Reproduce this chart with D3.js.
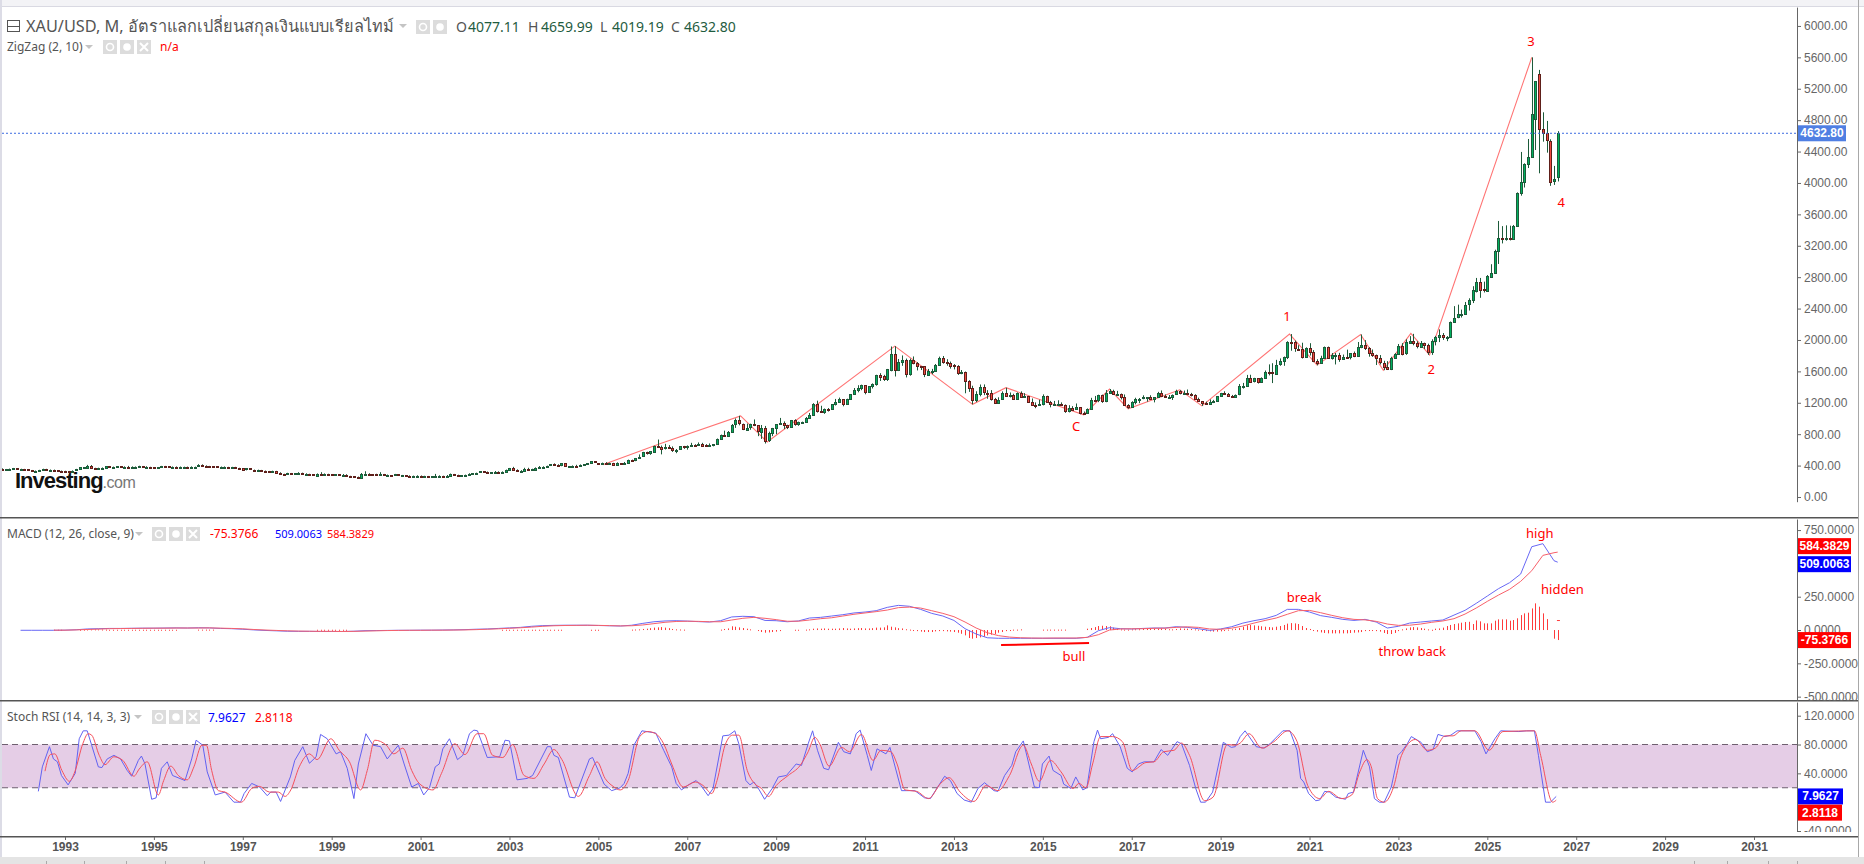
<!DOCTYPE html>
<html>
<head>
<meta charset="utf-8">
<script src="https://cdn.jsdelivr.net/npm/d3@7"></script>
<style>
body { margin: 0; background: #fff; }
svg { display: block; font-family: "Liberation Sans", sans-serif; }
.lbl { font-family: "Noto Sans", "DejaVu Sans", sans-serif; }
</style>
</head>
<body>
<svg id="chart" width="1864" height="864"></svg>
<script>
/* monthly candles, Jul 1991 -> Aug 2026 */
const firstCandle = 1991.5;
const closes = [
362,347,354,358,367,353,
354,353,341,337,337,343,357,340,349,339,334,333,
330,329,337,354,378,378,401,372,355,369,370,390,
378,381,389,376,387,385,385,386,395,384,384,383,
375,376,392,389,385,387,383,383,384,383,387,387,
405,400,396,392,391,382,385,387,379,379,371,369,
345,364,348,340,345,334,326,325,332,311,296,290,
304,297,301,310,293,296,288,273,293,292,294,288,
285,287,280,286,268,261,255,254,299,299,291,290,
283,293,276,276,272,288,277,278,273,264,270,273,
265,267,257,264,267,271,265,273,293,279,276,277,
282,297,302,309,326,318,304,312,323,317,319,347,
368,347,336,336,361,346,354,375,384,386,397,416,
403,396,427,388,394,395,391,408,415,428,453,438,
422,434,427,435,414,437,430,434,473,470,495,513,
570,556,582,654,643,613,632,623,599,603,646,632,
650,664,662,681,659,650,665,673,743,795,783,834,
923,975,933,865,885,926,913,833,884,724,816,880,
928,942,922,891,979,926,954,955,1008,1040,1179,1096,
1081,1118,1115,1180,1207,1244,1181,1248,1307,1359,1386,1421,
1332,1411,1439,1556,1536,1502,1628,1827,1622,1723,1746,1565,
1744,1710,1669,1664,1559,1604,1610,1684,1773,1719,1713,1675,
1664,1578,1596,1476,1393,1235,1313,1396,1327,1323,1250,1202,
1240,1321,1284,1296,1246,1327,1282,1287,1210,1171,1168,1184,
1284,1213,1183,1184,1190,1172,1095,1135,1115,1142,1065,1061,
1118,1238,1234,1293,1217,1322,1351,1309,1316,1273,1173,1152,
1211,1249,1249,1268,1268,1242,1269,1322,1280,1271,1275,1303,
1345,1318,1325,1315,1299,1253,1224,1201,1192,1215,1222,1281,
1321,1313,1292,1284,1305,1409,1414,1520,1472,1513,1464,1517,
1589,1586,1577,1686,1730,1780,1975,1968,1886,1879,1777,1898,
1847,1734,1708,1769,1907,1770,1814,1814,1757,1783,1774,1829,
1797,1909,1937,1897,1837,1807,1766,1711,1661,1633,1768,1824,
1928,1826,1969,1990,1962,1919,1965,1940,1849,1984,2036,2063,
2039,2044,2230,2286,2327,2327,2447,2503,2635,2744,2643,2624,
2813,2858,3133,3295,3289,3303,3295,3456,3872,4008,4242,4331,
4875,5299,4684,4630,4540,4017,4047,4632.8
];
const highs = [
370,365,357,362,370,368,
360,358,354,344,340,346,360,359,350,349,340,338,
334,332,339,358,380,382,409,407,372,373,376,392,
395,387,393,392,390,396,390,389,398,395,392,385,
382,382,396,396,393,392,389,388,386,387,390,390,
418,416,403,396,394,392,388,392,384,384,384,372,
369,366,355,349,348,345,337,332,335,333,315,296,
308,306,305,316,310,302,296,289,300,316,300,296,
293,292,291,293,290,270,267,260,305,328,302,292,
296,316,294,286,280,294,290,281,278,276,272,277,
274,270,268,265,294,276,271,280,299,294,284,280,
285,302,303,310,327,331,325,313,331,327,326,349,
370,384,352,342,372,372,360,377,394,391,399,417,
428,417,432,429,395,402,410,415,419,432,456,456,
428,438,444,437,435,441,431,446,476,476,497,542,
575,577,583,654,732,655,677,661,644,611,648,651,
657,690,672,695,690,673,682,675,745,795,845,840,
930,1000,1034,935,935,934,988,915,917,905,832,880,
928,1007,963,920,981,990,960,960,1019,1070,1195,1227,
1162,1127,1133,1180,1249,1266,1212,1252,1308,1388,1424,1431,
1426,1412,1447,1557,1577,1556,1631,1917,1921,1758,1803,1763,
1763,1790,1719,1669,1666,1631,1632,1694,1788,1796,1755,1725,
1693,1679,1617,1598,1487,1417,1347,1433,1434,1361,1361,1262,
1270,1345,1392,1331,1315,1332,1345,1323,1287,1255,1205,1239,
1307,1290,1224,1224,1232,1205,1179,1169,1157,1191,1144,1089,
1128,1263,1287,1303,1304,1362,1375,1366,1352,1318,1306,1182,
1220,1264,1261,1295,1270,1296,1270,1339,1357,1306,1299,1306,
1366,1361,1356,1369,1326,1309,1265,1219,1214,1243,1237,1284,
1326,1347,1325,1300,1306,1439,1453,1555,1557,1518,1515,1524,
1611,1689,1704,1747,1765,1789,1984,2075,1992,1933,1965,1906,
1959,1871,1755,1799,1916,1916,1834,1834,1836,1814,1877,1831,
1853,1974,2070,1998,1909,1879,1814,1808,1735,1730,1786,1833,
1949,1960,2009,2049,2078,1984,1987,1966,1953,2009,2052,2135,
2088,2050,2235,2431,2450,2387,2484,2531,2685,2790,2790,2743,
2827,2965,3150,3516,3450,3460,3456,3465,3880,4395,4250,4560,
5600,5299,5440,4900,4790,4556,4217,4659.99
];
const lows = [
357,344,345,352,357,351,
350,350,341,336,334,336,343,339,339,339,331,332,
326,326,328,336,354,367,376,369,346,354,367,369,
376,375,379,371,374,382,379,373,386,382,376,376,
372,372,374,387,382,385,381,381,381,381,382,385,
386,398,393,389,388,380,380,385,377,376,370,366,
343,339,344,336,338,334,315,319,319,309,290,283,
284,294,291,300,290,283,287,273,272,290,290,285,
283,281,279,279,268,257,252,252,252,294,289,280,
281,282,276,274,267,270,276,270,269,264,262,268,
262,256,255,254,263,264,265,265,271,274,271,270,
277,282,291,298,307,315,302,304,311,310,314,317,
346,344,327,325,335,342,342,351,372,370,380,394,
399,393,392,386,376,388,386,389,405,412,423,436,
415,411,425,425,414,414,418,429,433,456,456,494,
514,540,537,582,640,543,605,611,574,558,604,613,
603,642,637,661,651,642,644,645,672,727,780,782,
832,880,913,852,848,856,903,775,740,681,701,775,
800,920,865,865,880,908,907,931,954,1004,1045,1075,
1072,1059,1088,1114,1165,1204,1155,1176,1246,1317,1333,1360,
1308,1325,1382,1418,1478,1478,1478,1601,1535,1604,1671,1523,
1545,1690,1612,1617,1527,1548,1564,1592,1685,1698,1672,1635,
1625,1555,1564,1321,1339,1180,1208,1282,1297,1251,1228,1187,
1221,1238,1277,1268,1240,1240,1281,1273,1207,1161,1131,1170,
1167,1197,1142,1178,1168,1162,1072,1077,1097,1108,1053,1046,
1062,1111,1208,1208,1199,1207,1312,1301,1303,1242,1172,1124,
1146,1180,1195,1245,1214,1236,1205,1264,1272,1262,1263,1236,
1303,1307,1303,1301,1281,1250,1211,1160,1180,1182,1196,1221,
1276,1300,1281,1266,1268,1296,1381,1401,1459,1459,1445,1459,
1517,1549,1451,1568,1671,1671,1757,1863,1849,1860,1764,1775,
1802,1717,1677,1706,1770,1761,1750,1688,1722,1746,1761,1753,
1781,1788,1895,1872,1787,1785,1681,1688,1615,1617,1616,1765,
1824,1804,1810,1970,1932,1893,1903,1884,1810,1810,1931,1973,
2001,1985,2030,2229,2277,2286,2330,2375,2470,2605,2537,2605,
2614,2795,2860,2968,3230,3265,3268,3295,3456,3838,3942,4190,
4320,4420,4123,4526,4386,3963,3975,4019.19
];
// months whose open is not the close before them
const openYears = [2026.0833, 2026.1667, 2026.5833];
const openValues = [4811, 5389, 4077.11];

/* zigzag */
const zigYears = [2005.1,2006.4,2008.2,2008.8,2011.67,2013.42,2014.17,2015.92,2016.5,2016.92,2018.08,2018.58,2020.55,2021.17,2022.15,2022.66,2023.28,2023.7,2026.0];
const zigPrices = [412,680,1033,700,1921,1180,1392,1046,1375,1124,1366,1160,2075,1680,2070,1615,2085,1810,5600];

/* macd, quarterly Jan/Apr/Jul/Oct from 1992, last one Aug 2026 */
const macdLine = [
-2,-2,-2,-2, -1,2,8,10, 12,12,13,14, 14,15,16,15, 17,16,12,10, 6,1,-3,-6,
-9,-10,-10,-11, -11,-11,-9,-5, -4,-3,-2,-2, -1,-1,0,1, 3,6,8,12, 16,20,28,33,
35,36,36,36, 34,32,30,36, 50,62,68,70, 67,63,60,70, 98,103,100,72, 70,62,68,90,
95,105,115,128, 135,145,170,185, 178,155,125,105, 72,10,-30,-58, -62,-62,-62,-62,
-62,-62,-62,-62, -55,-5,18,10, 8,12,15,15, 25,20,10,-3, 8,25,52,70, 85,110,155,155,
135,108,95,80, 72,80,60,15, 28,52,60,68, 75,112,148,200, 255,310,355,420, 625,648,520,509
];
const macdSignal = [
null,null,null,-1, -1,1,4,7, 10,11,12,13, 14,14,15,15, 15,16,14,12, 9,4,0,-3,
-6,-8,-9,-10, -10,-11,-10,-8, -6,-4,-3,-2, -2,-1,-1,0, 1,3,6,9, 13,17,22,28,
32,34,35,36, 35,33,31,32, 38,48,58,64, 66,65,62,62, 75,88,95,88, 78,66,66,75,
85,92,105,118, 128,138,150,168, 172,165,145,125, 100,60,15,-20, -42,-53,-58,-60,
-61,-60,-60,-60, -55,-35,0,8, 9,10,13,14, 20,24,20,8, 5,14,30,52, 72,90,118,145,
147,130,110,92, 80,76,65,45, 35,36,45,58, 68,85,120,165, 215,262,305,365, 445,560,580,584.38
];
// histogram, monthly from Jan 1992
const macdHist = [
0,0,0,0,0,0,0,0,0,2,2,2,
0,0,0,0,2,3,4,5,5,5,4,3,
2,2,2,2,2,2,2,2,2,2,2,2,
2,2,2,2,2,2,2,0,0,0,0,0,
3,3,3,3,3,0,0,0,0,0,0,0,
0,0,0,0,0,0,0,0,0,0,0,0,
0,0,0,0,0,0,0,0,2,2,2,2,
2,2,2,2,2,0,0,0,0,0,0,0,
0,0,0,0,0,0,0,0,0,0,0,0,
0,0,0,0,0,0,0,0,0,0,0,0,
0,0,0,0,0,0,0,0,0,0,2,2,
2,2,2,2,2,2,2,2,2,2,2,2,
2,2,2,0,0,0,0,0,0,0,2,2,
2,0,0,0,0,0,0,0,0,3,4,5,
8,10,14,18,20,22,18,14,8,5,4,3,
0,0,0,0,0,0,0,0,0,3,8,12,
28,25,20,15,10,5,0,-6,-15,-20,-18,-15,
-12,-8,0,0,0,2,2,0,3,5,10,12,
10,12,10,10,10,12,15,12,10,12,14,15,
12,12,14,18,18,20,35,25,20,14,12,6,
3,-5,-8,-12,-15,-15,-15,-10,-8,-8,-10,-12,
-15,-20,-28,-40,-60,-65,-60,-55,-50,-40,-35,-30,
-20,-15,-8,-3,3,3,5,0,0,0,0,0,
3,3,3,3,3,3,3,0,0,0,0,0,
10,15,22,30,32,30,28,18,10,5,3,3,
5,6,6,8,10,10,10,10,12,10,6,5,
8,12,10,10,8,5,3,-3,-8,-10,-12,-12,
-10,-3,3,6,10,15,25,35,38,35,32,28,
25,22,20,25,30,38,48,52,50,45,30,15,
8,-5,-12,-18,-22,-25,-25,-25,-25,-25,-25,-22,
-20,-18,-15,-8,-5,-3,-8,-12,-22,-30,-30,-22,
-8,5,12,20,22,20,15,10,5,2,10,12,
18,30,38,45,50,55,60,62,45,72,65,50,
50,50,70,80,80,80,70,75,88,112,125,130,
162,200,175,125,82,0,-65,-75
];
const histDashYear = [2026.6];
const histDashValue = [75];

/* stoch rsi, year + value */
const stochKYears = [1992.4,1992.49,1992.65,1992.74,1992.83,1992.92,1993.07,1993.23,1993.32,1993.41,1993.5,1993.6,1993.75,1993.83,1993.95,1994.1,1994.25,1994.4,1994.5,1994.65,1994.72,1994.8,1994.95,1995.05,1995.17,1995.3,1995.42,1995.7,1995.85,1995.95,1996.1,1996.2,1996.38,1996.6,1996.8,1996.95,1997.03,1997.2,1997.38,1997.55,1997.63,1997.75,1997.85,1998.07,1998.17,1998.35,1998.5,1998.65,1998.75,1998.9,1999.1,1999.2,1999.35,1999.5,1999.6,1999.77,1999.93,2000.1,2000.25,2000.5,2000.63,2000.8,2000.95,2001.07,2001.2,2001.33,2001.42,2001.5,2001.65,2001.83,2001.95,2002.1,2002.2,2002.28,2002.5,2002.78,2002.9,2003.0,2003.17,2003.4,2003.52,2003.85,2003.93,2004.0,2004.1,2004.35,2004.47,2004.8,2004.87,2005.13,2005.3,2005.49,2005.58,2005.67,2005.8,2005.98,2006.29,2006.47,2006.65,2006.75,2006.87,2007.0,2007.2,2007.31,2007.47,2007.58,2007.8,2007.94,2008.07,2008.16,2008.32,2008.41,2008.5,2008.62,2008.74,2008.91,2009.05,2009.23,2009.45,2009.57,2009.72,2009.82,2009.93,2010.07,2010.18,2010.4,2010.52,2010.67,2010.8,2010.89,2011.05,2011.14,2011.27,2011.47,2011.56,2011.82,2011.94,2012.12,2012.34,2012.47,2012.79,2012.92,2013.07,2013.23,2013.39,2013.54,2013.69,2013.9,2013.99,2014.14,2014.3,2014.39,2014.56,2014.81,2014.92,2014.99,2015.14,2015.23,2015.41,2015.47,2015.63,2015.74,2015.9,2015.99,2016.15,2016.23,2016.3,2016.48,2016.57,2016.74,2016.9,2017.01,2017.15,2017.28,2017.5,2017.66,2017.81,2018.02,2018.12,2018.3,2018.44,2018.55,2018.66,2018.82,2019.06,2019.24,2019.33,2019.44,2019.55,2019.8,2019.98,2020.11,2020.4,2020.56,2020.72,2020.8,2020.87,2020.98,2021.14,2021.23,2021.34,2021.45,2021.59,2021.81,2021.87,2021.99,2022.21,2022.35,2022.46,2022.57,2022.68,2022.84,2022.99,2023.07,2023.2,2023.29,2023.51,2023.65,2023.78,2023.89,2024.05,2024.18,2024.32,2024.72,2024.86,2024.97,2025.17,2025.3,2025.71,2025.88,2026.06,2026.15,2026.31,2026.42,2026.55];
const stochKValues = [15,49,77,60,56,37,24,40,88,99,99,79,49,48,60,65,60,44,36,58,64,53,4,6,47,56,37,30,60,86,79,42,10,14,0,0,12,26,21,9,14,14,1,35,58,77,54,63,94,88,67,70,47,5,53,95,79,77,60,79,53,21,26,10,20,49,53,74,88,59,65,95,100,99,62,63,86,85,31,33,37,77,77,65,62,7,6,60,62,25,16,20,26,40,79,99,96,72,49,26,17,23,30,23,9,19,92,93,99,81,30,24,28,17,4,19,35,37,53,51,81,99,72,47,45,83,70,67,95,100,65,44,74,67,76,16,16,16,6,5,36,30,12,3,0,19,27,16,15,37,51,70,85,21,20,53,64,44,37,25,19,35,17,20,84,100,88,90,95,77,47,42,53,56,56,73,65,84,81,51,19,0,0,14,83,76,77,91,99,77,75,81,99,99,72,33,28,12,2,3,15,14,7,4,12,14,72,49,5,0,0,21,65,70,81,91,83,70,73,94,91,93,99,99,84,67,88,99,98,99,99,65,0,0,7.96];
const stochDYears = [1992.55,1992.67,1992.77,1992.93,1993.1,1993.22,1993.4,1993.52,1993.6,1993.77,1993.9,1994.1,1994.3,1994.55,1994.67,1994.85,1995.1,1995.22,1995.38,1995.55,1995.75,1995.9,1996.08,1996.18,1996.3,1996.45,1996.6,1996.97,1997.2,1997.37,1997.6,1997.8,1997.95,1998.08,1998.27,1998.5,1998.67,1998.98,1999.17,1999.4,1999.65,1999.8,1999.97,2000.23,2000.4,2000.6,2000.8,2000.97,2001.28,2001.47,2001.77,2002.0,2002.27,2002.42,2002.62,2002.85,2003.07,2003.33,2003.55,2003.78,2004.0,2004.18,2004.55,2004.8,2004.97,2005.15,2005.33,2005.49,2005.67,2005.93,2006.11,2006.29,2006.47,2006.65,2006.91,2007.18,2007.36,2007.55,2007.67,2007.85,2008.02,2008.16,2008.35,2008.51,2008.67,2008.83,2009.0,2009.27,2009.54,2009.72,2009.87,2009.98,2010.19,2010.47,2010.65,2010.92,2011.18,2011.36,2011.58,2011.72,2011.9,2012.16,2012.43,2012.7,2012.89,2013.14,2013.45,2013.72,2013.99,2014.25,2014.56,2014.74,2014.92,2015.17,2015.41,2015.68,2015.81,2015.97,2016.12,2016.3,2016.57,2016.79,2017.01,2017.32,2017.5,2017.72,2017.95,2018.12,2018.3,2018.64,2018.83,2019.15,2019.33,2019.44,2019.64,2019.93,2020.2,2020.51,2020.72,2020.96,2021.23,2021.43,2021.72,2021.95,2022.13,2022.29,2022.39,2022.53,2022.68,2022.89,2023.07,2023.38,2023.65,2023.83,2024.05,2024.23,2024.41,2024.72,2025.04,2025.35,2026.06,2026.2,2026.47,2026.55];
const stochDValues = [43,66,67,44,29,42,81,95,93,65,52,63,58,36,46,56,10,30,50,37,31,49,79,79,44,16,14,0,19,22,14,14,8,17,49,67,59,88,72,56,17,44,86,79,67,75,44,26,17,40,81,66,95,95,65,62,80,37,33,53,73,59,8,37,56,33,22,17,30,91,98,95,81,53,21,28,23,12,30,79,93,93,44,26,19,8,23,37,51,70,90,81,50,76,70,94,58,72,70,53,17,15,5,26,34,14,1,23,16,37,79,53,29,58,42,19,26,20,53,91,91,84,44,55,56,70,72,82,65,2,7,80,79,82,95,75,84,99,84,23,5,15,5,10,42,59,49,5,0,21,65,87,72,75,92,92,99,99,72,98,99,65,0,2.81];

/* labels on the chart */
const wavesText = ["3","4","1","2","C"];
const wavesYears = [2025.98,2026.66,2020.49,2023.74,2015.75];
const wavesPrices = [5813,3762,2306,1631,904];
const macdNotesText = ["high","hidden","break","throw back","bull"];
const macdNotesYears = [2026.18,2026.69,2020.88,2023.31,2015.7];
const macdNotesValues = [726,311,248,-155,-193];
const bullLineYears = [2014.06,2016.04];
const bullLineValues = [-113,-98];

/* ticks */
const yearTicks = d3.range(1993, 2032, 2);
const priceTicks = d3.range(0, 6001, 400);
const macdTicks = [750,500,250,0,-250,-500];
const stochTicks = [120,80,40,0,-40];
// these tick labels sit behind the value tags
const macdHiddenLabels = [500];
const stochHiddenLabels = [0];

/*basic setup*/
const svg = d3.select("#chart");
const axisX = 1797;

const x = d3.scaleLinear().domain([1993, 2031]).range([65, 1754]);
const yPrice = d3.scaleLinear().domain([-60, 6240]).range([501.7, 7.1]);
const yMacd = d3.scaleLinear().domain([-525, 833]).range([700, 519]);
const yStoch = d3.scaleLinear().domain([-40, 139]).range([831, 702]);

// window chrome
svg.append("rect").attr("width", 1864).attr("height", 6).attr("fill", "#f3f3f6");
svg.append("rect").attr("y", 6).attr("width", 1864).attr("height", 1).attr("fill", "#d9d9e2");
svg.append("rect").attr("width", 2).attr("height", 857).attr("fill", "#dcdce6");
svg.append("rect").attr("x", 1858).attr("width", 1).attr("height", 857).attr("fill", "#a8a8a8");
svg.append("rect").attr("y", 857).attr("width", 1864).attr("height", 7).attr("fill", "#e4e4e4");
[46, 84, 126, 165, 204, 1694, 1727, 1768, 1797].forEach(function (px) {
    svg.append("rect").attr("x", px).attr("y", 861).attr("width", 1).attr("height", 3).attr("fill", "#aaa");
});

svg.append("clipPath").attr("id", "plot").append("rect")
    .attr("x", 2).attr("y", 7).attr("width", axisX - 2).attr("height", 830);
const plot = svg.append("g").attr("clip-path", "url(#plot)");

/* zigzag */
plot.append("path")
    .attr("fill", "none").attr("stroke", "#ff7474").attr("stroke-width", 1.1)
    .attr("d", d3.line().x((d, i) => x(zigYears[i])).y(d => yPrice(d))(zigPrices));

/* candles */
let candles = closes.map(function (c, i) {
    let year = firstCandle + i / 12;
    let open = i == 0 ? c : closes[i - 1];
    openYears.forEach(function (y, k) {
        if (Math.abs(y - year) < 0.01) open = openValues[k];
    });
    return { year: year, open: open, close: c, high: highs[i], low: lows[i] };
});

let candle = plot.selectAll("g.candle").data(candles).enter().append("g").attr("class", "candle");
candle.append("line")
    .attr("x1", d => Math.round(x(d.year)) + 0.5).attr("x2", d => Math.round(x(d.year)) + 0.5)
    .attr("y1", d => yPrice(d.high)).attr("y2", d => yPrice(d.low))
    .attr("stroke", "#1d5b3a").attr("stroke-width", 1);
candle.append("rect")
    .attr("x", d => Math.round(x(d.year)) - 1 + 0.5)
    .attr("width", 2)
    .attr("y", d => Math.round(yPrice(Math.max(d.open, d.close))) + 0.5)
    .attr("height", d => Math.max(1, Math.round(Math.abs(yPrice(d.open) - yPrice(d.close)))))
    .attr("fill", d => d.close >= d.open ? "#00b060" : "#f0483e")
    .attr("stroke", d => d.close >= d.open ? "#1d5b3a" : "#5e1f1a")
    .attr("stroke-width", 1)
    .attr("shape-rendering", "crispEdges");

/* last price line */
svg.append("line").attr("x1", 2).attr("x2", axisX)
    .attr("y1", yPrice(4632.8)).attr("y2", yPrice(4632.8))
    .attr("stroke", "#3d6be0").attr("stroke-dasharray", "2,2");

/* panel lines */
[518, 701, 837].forEach(function (y) {
    svg.append("rect").attr("x", 0).attr("y", y - 1).attr("width", 1858).attr("height", 1.5).attr("fill", "#555");
});

/* macd */
let quarterYear = (d, i) => i == macdLine.length - 1 ? 2026.5833 : 1992 + i * 0.25;
plot.selectAll("rect.hist").data(macdHist).enter().append("rect")
    .attr("class", "hist").attr("fill", "#ff3b3b")
    .attr("x", (d, i) => Math.round(x(1992 + i / 12)))
    .attr("width", d => d != 0 ? 1 : 0)
    .attr("y", d => d > 0 ? yMacd(d) : yMacd(0))
    .attr("height", d => d != 0 ? Math.max(1, Math.abs(yMacd(d) - yMacd(0))) : 0);
plot.selectAll("rect.dash").data(histDashValue).enter().append("rect")
    .attr("class", "dash").attr("fill", "#ff3b3b")
    .attr("x", (d, i) => x(histDashYear[i]) - 1.5).attr("width", 3)
    .attr("y", d => yMacd(d)).attr("height", 1);

let macdPath = d3.line().defined(d => d !== null).x((d, i) => x(quarterYear(d, i))).y(d => yMacd(d));
plot.append("path").attr("fill", "none").attr("stroke", "#6868f5").attr("stroke-width", 1)
    .attr("d", macdPath(macdLine));
plot.append("path").attr("fill", "none").attr("stroke", "#f8606a").attr("stroke-width", 1)
    .attr("d", macdPath(macdSignal));

plot.append("path").attr("fill", "none").attr("stroke", "#f00").attr("stroke-width", 2)
    .attr("d", d3.line().x((d, i) => x(bullLineYears[i])).y(d => yMacd(d))(bullLineValues));

/* stoch rsi */
plot.append("rect").attr("x", 2).attr("width", axisX - 2)
    .attr("y", yStoch(80)).attr("height", yStoch(20) - yStoch(80)).attr("fill", "#e5cde6");
[80, 20].forEach(function (v) {
    plot.append("line").attr("x1", 2).attr("x2", axisX).attr("y1", yStoch(v)).attr("y2", yStoch(v))
        .attr("stroke", "#6f6070").attr("stroke-width", 1.1).attr("stroke-dasharray", "6,4");
});
plot.append("path").attr("fill", "none").attr("stroke", "#6262f2").attr("stroke-width", 1)
    .attr("d", d3.line().x((d, i) => x(stochKYears[i])).y(d => yStoch(d))(stochKValues));
plot.append("path").attr("fill", "none").attr("stroke", "#f5505c").attr("stroke-width", 1)
    .attr("d", d3.line().curve(d3.curveMonotoneX).x((d, i) => x(stochDYears[i])).y(d => yStoch(d))(stochDValues));

/* axes */
function styleAxis(g) {
    g.selectAll("path,line").attr("stroke", "#666");
    g.selectAll("text").attr("fill", "#666").style("font-family", "'Liberation Sans', sans-serif").style("font-size", "12px");
}
svg.append("g").attr("transform", "translate(" + axisX + ",0)")
    .call(d3.axisRight(yPrice).tickValues(priceTicks).tickFormat(d => d.toFixed(2)).tickSize(4).tickSizeOuter(0))
    .call(styleAxis);
svg.append("g").attr("transform", "translate(" + axisX + ",0)")
    .call(d3.axisRight(yMacd).tickValues(macdTicks).tickFormat(d => macdHiddenLabels.includes(d) ? "" : d.toFixed(4)).tickSize(4).tickSizeOuter(0))
    .call(styleAxis);
svg.append("clipPath").attr("id", "stochAxis").append("rect").attr("x", 0).attr("y", 701).attr("width", 70).attr("height", 131);
svg.append("g").attr("transform", "translate(" + axisX + ",0)")
    .attr("clip-path", "url(#stochAxis)")
    .call(d3.axisRight(yStoch).tickValues(stochTicks).tickFormat(d => stochHiddenLabels.includes(d) ? "" : d.toFixed(4)).tickSize(4).tickSizeOuter(0))
    .call(styleAxis);
svg.append("g").attr("transform", "translate(0,837)")
    .call(d3.axisBottom(x).tickValues(yearTicks).tickFormat(d3.format("d")).tickSize(3).tickSizeOuter(0))
    .call(styleAxis)
    .call(g => g.select(".domain").remove())
    .call(g => g.selectAll("text").attr("y", 5).attr("fill", "#555").style("font-weight", "bold"));

/* price tags */
const tagValues = [4632.8, 584.3829, 509.0063, -75.3766, 7.9627, 2.8118];
const tagDecimals = [2, 4, 4, 4, 4, 4];
const tagScales = [yPrice, yMacd, yMacd, yMacd, yStoch, yStoch];
const tagShifts = [0, -6, 2, 0, 0, 12.5];
const tagColors = ["#4f7fe3", "#f00", "#00f", "#f00", "#00f", "#f00"];
const tagWidths = [48, 53, 53, 53, 45, 44];
let tag = svg.selectAll("g.tag").data(tagValues).enter().append("g").attr("class", "tag")
    .attr("transform", (d, i) => "translate(" + (axisX + 1) + "," + (tagScales[i](d) + tagShifts[i]) + ")");
tag.append("rect").attr("y", -8).attr("height", 16).attr("width", (d, i) => tagWidths[i]).attr("fill", (d, i) => tagColors[i]);
tag.append("text").attr("x", (d, i) => tagWidths[i] / 2).attr("y", 4).attr("text-anchor", "middle")
    .attr("fill", "#fff").style("font-size", "12px").style("font-weight", "bold")
    .text((d, i) => d.toFixed(tagDecimals[i]));

/* red notes */
function redNote(list, yearsList, yScale, valueList) {
    svg.selectAll(null).data(list).enter().append("text").attr("class", "lbl")
        .attr("x", (d, i) => x(yearsList[i])).attr("y", (d, i) => yScale(valueList[i]) + 5)
        .attr("text-anchor", "middle").attr("fill", "#f00").style("font-size", "13px")
        .text(d => d);
}
redNote(wavesText, wavesYears, yPrice, wavesPrices);
redNote(macdNotesText, macdNotesYears, yMacd, macdNotesValues);

/* logo */
let logo = svg.append("text").attr("x", 15).attr("y", 488);
logo.append("tspan").text("Investing").attr("fill", "#111").style("font-weight", "bold").style("font-size", "22px").style("letter-spacing", "-1px");
logo.append("tspan").text(".com").attr("fill", "#777").style("font-size", "16px").style("letter-spacing", "-0.5px");

/* header legends */
function legendText(px, py, str, color, size) {
    return svg.append("text").attr("class", "lbl").attr("x", px).attr("y", py)
        .attr("fill", color).style("font-size", size + "px").text(str);
}
function icons(px, py, n) {
    for (let k = 0; k < n; k++) {
        let g = svg.append("g").attr("transform", "translate(" + (px + k * 17) + "," + py + ")");
        g.append("rect").attr("width", 14).attr("height", 14).attr("fill", "#dcdcdc");
        if (k == 0) g.append("circle").attr("cx", 7).attr("cy", 7).attr("r", 3.5).attr("fill", "none").attr("stroke", "#fff").attr("stroke-width", 1.6);
        if (k == 1) g.append("circle").attr("cx", 7).attr("cy", 7).attr("r", 3.8).attr("fill", "#fff");
        if (k == 2) g.append("path").attr("d", "M3,3L11,11M11,3L3,11").attr("stroke", "#fff").attr("stroke-width", 2);
    }
}
function caret(px, py) {
    svg.append("path").attr("d", "M" + px + "," + py + "l8,0l-4,4z").attr("fill", "#c4c4c4");
}

svg.append("rect").attr("x", 7.5).attr("y", 20.5).attr("width", 12).attr("height", 11).attr("fill", "none").attr("stroke", "#555");
svg.append("line").attr("x1", 7).attr("x2", 20).attr("y1", 26.5).attr("y2", 26.5).attr("stroke", "#555");
legendText(26, 32, "XAU/USD, M, อัตราแลกเปลี่ยนสกุลเงินแบบเรียลไทม์", "#555", 16.3);
caret(399, 24);
icons(416, 20, 2);
legendText(456, 32, "O", "#555", 14);
legendText(468, 32, "4077.11", "#1f5c3f", 14);
legendText(528, 32, "H", "#555", 14);
legendText(541, 32, "4659.99", "#1f5c3f", 14);
legendText(600, 32, "L", "#555", 14);
legendText(612, 32, "4019.19", "#1f5c3f", 14);
legendText(671, 32, "C", "#555", 14);
legendText(684, 32, "4632.80", "#1f5c3f", 14);

legendText(7, 51, "ZigZag (2, 10)", "#555", 12);
caret(85, 45);
icons(103, 40, 3);
legendText(160, 51, "n/a", "#f00", 12);

legendText(7, 538, "MACD (12, 26, close, 9)", "#555", 12);
caret(135, 532);
icons(152, 527, 3);
legendText(210, 538, "-75.3766", "#f00", 12);
legendText(275, 538, "509.0063", "#00f", 11);
legendText(327, 538, "584.3829", "#f00", 11);

legendText(7, 721, "Stoch RSI (14, 14, 3, 3)", "#555", 12);
caret(134, 715);
icons(152, 710, 3);
legendText(208, 722, "7.9627", "#00f", 12);
legendText(255, 722, "2.8118", "#f00", 12);
</script>
</body>
</html>
